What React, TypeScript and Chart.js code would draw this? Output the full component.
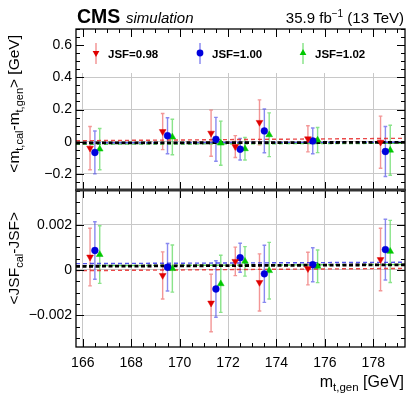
import React, { useEffect, useRef } from "react";
import { Chart, registerables } from "chart.js";

Chart.register(...registerables);

// ---------- data ----------
const massPoints = [166.5, 169.5, 171.5, 172.5, 173.5, 175.5, 178.5];
const seriesShift = [-0.2, 0, 0.2];
const seriesLabels = ["JSF=0.98", "JSF=1.00", "JSF=1.02"];

const xRange = [165.72, 179.31];
const xTickValues = [166, 168, 170, 172, 174, 176, 178];
const topRange = [-0.3, 0.7];
const topTickValues = [-0.2, 0, 0.2, 0.4, 0.6];
const botRange = [-0.0034, 0.00353];
const botTickValues = [-0.002, 0, 0.002];

// upper panel: <m_cal - m_gen> [GeV]
const massBias098 = [-0.04, 0.063, 0.053, -0.03, 0.12, 0.018, -0.003];
const massErr098 = [0.134, 0.112, 0.143, 0.068, 0.14, 0.081, 0.162];
const massBias100 = [-0.067, 0.037, 0.015, -0.047, 0.067, 0.005, -0.061];
const massErr100 = [0.133, 0.112, 0.136, 0.067, 0.136, 0.08, 0.155];
const massBias102 = [-0.046, 0.029, -0.009, -0.044, 0.043, 0.01, -0.053];
const massErr102 = [0.128, 0.11, 0.137, 0.07, 0.136, 0.078, 0.155];

// lower panel: <JSF_cal - JSF>
const jsfBias098 = [0.00057, -0.00024, -0.00146, 0.00038, -0.00055, 0.00006, 0.00046];
const jsfErr098 = [0.00127, 0.00104, 0.00127, 0.00063, 0.00126, 0.00072, 0.00138];
const jsfBias100 = [0.00086, 0.00012, -0.00084, 0.00054, -0.00017, 0.00023, 0.0009];
const jsfErr100 = [0.00127, 0.00105, 0.00125, 0.00064, 0.00126, 0.00075, 0.00134];
const jsfBias102 = [0.00068, 0.00006, -0.00061, 0.00038, -0.00003, 0.00016, 0.00082];
const jsfErr102 = [0.00127, 0.00104, 0.00126, 0.00065, 0.00125, 0.00072, 0.00137];

// fit lines (value at left edge, value at right edge)
const massFit098 = [0.006, 0.021];
const massFit100 = [-0.007, -0.003];
const massFit102 = [-0.016, -0.01];
const massFitAll = [-0.008, -0.004];
const jsfFit098 = [-0.00003, 0.00007];
const jsfFit100 = [0.00028, 0.00034];
const jsfFit102 = [0.00019, 0.00024];
const jsfFitAll = [0.00016, 0.00023];

// ---------- style ----------
const FONT = "'Liberation Sans', Arial, Helvetica, sans-serif";
const markerColors = ["#e00000", "#0000dd", "#00c800"];
const errColors = ["rgba(235,80,80,0.6)", "rgba(60,60,230,0.6)", "rgba(60,210,60,0.6)"];
const fitColors = ["rgba(230,40,40,0.85)", "rgba(40,40,230,0.8)", "rgba(40,200,40,0.8)"];
const markerStyles = ["down", "circle", "up"];

type Part = { t: string; size: number; dy?: number; bold?: boolean; italic?: boolean };

function fontOf(p: Part) {
  return `${p.italic ? "italic " : ""}${p.bold ? "bold " : ""}${p.size}px ${FONT}`;
}
function richWidth(ctx: CanvasRenderingContext2D, parts: Part[]) {
  let w = 0;
  for (const p of parts) {
    ctx.font = fontOf(p);
    w += ctx.measureText(p.t).width;
  }
  return w;
}
function drawRich(ctx: CanvasRenderingContext2D, parts: Part[], x: number, y: number) {
  let cx = x;
  ctx.textBaseline = "alphabetic";
  ctx.textAlign = "left";
  for (const p of parts) {
    ctx.font = fontOf(p);
    ctx.fillText(p.t, cx, y + (p.dy || 0));
    cx += ctx.measureText(p.t).width;
  }
}

function drawMarker(ctx: CanvasRenderingContext2D, style: string, x: number, y: number, r: number, color: string) {
  ctx.save();
  ctx.fillStyle = color;
  ctx.beginPath();
  if (style === "circle") {
    ctx.arc(x, y, r, 0, Math.PI * 2);
  } else {
    let a = style === "down" ? Math.PI : 0;
    ctx.moveTo(x + Math.sin(a) * r, y - Math.cos(a) * r);
    a += (2 * Math.PI) / 3;
    ctx.lineTo(x + Math.sin(a) * r, y - Math.cos(a) * r);
    a += (2 * Math.PI) / 3;
    ctx.lineTo(x + Math.sin(a) * r, y - Math.cos(a) * r);
    ctx.closePath();
  }
  ctx.fill();
  ctx.restore();
}

const fmt = (v: number) => (v === 0 ? "0" : (v < 0 ? "\u2212" : "") + String(Math.abs(v)));

const topSeries = [
  [massBias098, massErr098],
  [massBias100, massErr100],
  [massBias102, massErr102],
];
const botSeries = [
  [jsfBias098, jsfErr098],
  [jsfBias100, jsfErr100],
  [jsfBias102, jsfErr102],
];
const topFits = [massFit098, massFit100, massFit102];
const botFits = [jsfFit098, jsfFit100, jsfFit102];

function buildDatasets() {
  const ds: any[] = [];
  const addPoints = (series: number[][][], axis: string) => {
    series.forEach(([vals, errs], s) => {
      ds.push({
        type: "scatter",
        yAxisID: axis,
        data: massPoints.map((m, i) => ({ x: m + seriesShift[s], y: vals[i] })),
        errors: errs,
        errColor: errColors[s],
        pointStyle: s === 1 ? "circle" : "triangle",
        rotation: s === 0 ? 180 : 0,
        radius: s === 1 ? 3.4 : 3.9,
        backgroundColor: markerColors[s],
        borderColor: markerColors[s],
        borderWidth: 0.5,
        order: 0,
      });
    });
  };
  const addFits = (fits: number[][], all: number[], axis: string) => {
    fits.forEach((f, s) => {
      ds.push({
        type: "line",
        yAxisID: axis,
        data: [
          { x: xRange[0], y: f[0] },
          { x: xRange[1], y: f[1] },
        ],
        borderColor: fitColors[s],
        borderWidth: 1.4,
        borderDash: [4, 3],
        pointRadius: 0,
        order: 2,
      });
    });
    ds.push({
      type: "line",
      yAxisID: axis,
      data: [
        { x: xRange[0], y: all[0] },
        { x: xRange[1], y: all[1] },
      ],
      borderColor: "#000",
      borderWidth: 2.8,
      borderDash: [4, 2.5],
      pointRadius: 0,
      order: 1,
    });
  };
  addPoints(topSeries, "yTop");
  addPoints(botSeries, "yBot");
  addFits(topFits, massFitAll, "yTop");
  addFits(botFits, jsfFitAll, "yBot");
  return ds;
}

const decorPlugin = {
  id: "rootDecor",
  beforeDatasetsDraw(chart: any) {
    const ctx: CanvasRenderingContext2D = chart.ctx;
    const xs = chart.scales.x;
    const yt = chart.scales.yTop;
    const area = chart.chartArea;
    // legend box (white) covering grid at top of upper panel
    ctx.save();
    ctx.fillStyle = "#fff";
    ctx.fillRect(area.left + 1, yt.top + 1, area.right - area.left - 2, 43);
    ctx.restore();
    // legend entries
    const legX = [96, 200, 303];
    const legY = 53;
    seriesLabels.forEach((lab, s) => {
      ctx.save();
      ctx.strokeStyle = errColors[s];
      ctx.lineWidth = 1.5;
      ctx.beginPath();
      ctx.moveTo(legX[s], legY - 10);
      ctx.lineTo(legX[s], legY + 11);
      ctx.stroke();
      ctx.restore();
      drawMarker(ctx, markerStyles[s], legX[s], legY, s === 1 ? 3.4 : 3.9, markerColors[s]);
      ctx.save();
      ctx.fillStyle = "#000";
      ctx.font = `bold 11.5px ${FONT}`;
      ctx.textBaseline = "middle";
      ctx.fillText(lab, legX[s] + 12, legY + 2);
      ctx.restore();
    });
    // error bars
    chart.data.datasets.forEach((ds: any) => {
      if (!ds.errors) return;
      const ys = chart.scales[ds.yAxisID];
      ctx.save();
      ctx.strokeStyle = ds.errColor;
      ctx.lineWidth = 1.4;
      ds.data.forEach((pt: any, i: number) => {
        const px = xs.getPixelForValue(pt.x);
        const y1 = ys.getPixelForValue(pt.y + ds.errors[i]);
        const y2 = ys.getPixelForValue(pt.y - ds.errors[i]);
        ctx.beginPath();
        ctx.moveTo(px, y1);
        ctx.lineTo(px, y2);
        ctx.moveTo(px - 1.8, y1);
        ctx.lineTo(px + 1.8, y1);
        ctx.moveTo(px - 1.8, y2);
        ctx.lineTo(px + 1.8, y2);
        ctx.stroke();
      });
      ctx.restore();
    });
  },
  afterDraw(chart: any) {
    const ctx: CanvasRenderingContext2D = chart.ctx;
    const xs = chart.scales.x;
    const area = chart.chartArea;
    const panels = [
      { s: chart.scales.yTop, range: topRange, major: 0.2, minor: 0.05 },
      { s: chart.scales.yBot, range: botRange, major: 0.002, minor: 0.0005 },
    ];
    ctx.save();
    ctx.strokeStyle = "#000";
    ctx.lineWidth = 1;
    for (const p of panels) {
      const top = p.s.top;
      const bot = p.s.bottom;
      const n0 = Math.ceil(p.range[0] / p.minor - 1e-6);
      const n1 = Math.floor(p.range[1] / p.minor + 1e-6);
      for (let n = n0; n <= n1; n++) {
        const v = n * p.minor;
        const isMajor = Math.abs(v / p.major - Math.round(v / p.major)) < 1e-6;
        const len = isMajor ? 8 : 4;
        const py = Math.round(p.s.getPixelForValue(v)) + 0.5;
        ctx.beginPath();
        ctx.moveTo(area.left, py);
        ctx.lineTo(area.left + len, py);
        ctx.moveTo(area.right, py);
        ctx.lineTo(area.right - len, py);
        ctx.stroke();
      }
      for (let v = 165.5; v <= xRange[1]; v += 0.5) {
        if (v < xRange[0]) continue;
        const isMajor = Math.abs(v / 2 - Math.round(v / 2)) < 1e-6;
        const len = isMajor ? 8 : 4;
        const px = Math.round(xs.getPixelForValue(v)) + 0.5;
        ctx.beginPath();
        ctx.moveTo(px, top);
        ctx.lineTo(px, top + len);
        ctx.moveTo(px, bot);
        ctx.lineTo(px, bot - len);
        ctx.stroke();
      }
      ctx.lineWidth = 1.3;
      ctx.strokeRect(area.left, top, area.right - area.left, bot - top);
      ctx.lineWidth = 1;
    }
    ctx.strokeStyle = "#333";
    ctx.lineWidth = 3;
    ctx.beginPath();
    ctx.moveTo(area.left, chart.scales.yTop.bottom);
    ctx.lineTo(area.right, chart.scales.yTop.bottom);
    ctx.stroke();
    ctx.restore();

    ctx.save();
    ctx.fillStyle = "#000";
    drawRich(ctx, [{ t: "CMS", size: 19.5, bold: true }], 77, 23);
    drawRich(ctx, [{ t: "simulation", size: 15, italic: true }], 126, 23);
    const lumi: Part[] = [
      { t: "35.9 fb", size: 15 },
      { t: "\u22121", size: 10, dy: -6 },
      { t: " (13 TeV)", size: 15 },
    ];
    drawRich(ctx, lumi, 404 - richWidth(ctx, lumi), 23);
    const xt: Part[] = [
      { t: "m", size: 16 },
      { t: "t,gen", size: 11.5, dy: 4 },
      { t: " [GeV]", size: 16 },
    ];
    drawRich(ctx, xt, 404 - richWidth(ctx, xt), 387);
    const yt1: Part[] = [
      { t: "<m", size: 15.5 },
      { t: "t,cal", size: 11, dy: 4 },
      { t: "-m", size: 15.5 },
      { t: "t,gen", size: 11, dy: 4 },
      { t: "> [GeV]", size: 15.5 },
    ];
    const yt2: Part[] = [
      { t: "<JSF", size: 15.5 },
      { t: "cal", size: 11, dy: 4 },
      { t: "-JSF>", size: 15.5 },
    ];
    const rot = (parts: Part[], bx: number, yEnd: number) => {
      ctx.save();
      ctx.translate(bx, yEnd);
      ctx.rotate(-Math.PI / 2);
      drawRich(ctx, parts, -richWidth(ctx, parts), 0);
      ctx.restore();
    };
    rot(yt1, 19, 35);
    rot(yt2, 19, 212);
    ctx.restore();
  },
};

export default function App() {
  const ref = useRef<HTMLCanvasElement | null>(null);
  useEffect(() => {
    if (!ref.current) return;
    const tickFont = { family: FONT, size: 14 };
    const chart = new Chart(ref.current, {
      type: "scatter",
      data: { datasets: buildDatasets() },
      options: {
        animation: false,
        responsive: false,
        devicePixelRatio: 1,
        layout: { padding: { top: 29, right: 10, left: 0, bottom: 0 } },
        plugins: { legend: { display: false }, tooltip: { enabled: false } },
        scales: {
          x: {
            type: "linear",
            position: "bottom",
            min: xRange[0],
            max: xRange[1],
            afterBuildTicks: (s: any) => {
              s.ticks = xTickValues.map((v) => ({ value: v }));
            },
            afterFit: (s: any) => {
              s.height = 52;
            },
            ticks: { color: "#000", font: tickFont, padding: 8, maxRotation: 0, autoSkip: false, callback: (v: any) => String(v) },
            grid: { color: "#c8c8c8", lineWidth: 1, drawTicks: false },
            border: { display: false },
          },
          yBot: {
            type: "linear",
            position: "left",
            stack: "panels",
            stackWeight: 157,
            min: botRange[0],
            max: botRange[1],
            afterBuildTicks: (s: any) => {
              s.ticks = botTickValues.map((v) => ({ value: v }));
            },
            afterFit: (s: any) => {
              s.width = 76;
            },
            ticks: { color: "#000", font: tickFont, padding: 4, autoSkip: false, callback: (v: any) => fmt(v) },
            grid: { color: "#c8c8c8", lineWidth: 1, drawTicks: false },
            border: { display: false },
          },
          yTop: {
            type: "linear",
            position: "left",
            stack: "panels",
            stackWeight: 161,
            min: topRange[0],
            max: topRange[1],
            afterBuildTicks: (s: any) => {
              s.ticks = topTickValues.map((v) => ({ value: v }));
            },
            afterFit: (s: any) => {
              s.width = 76;
            },
            ticks: { color: "#000", font: tickFont, padding: 4, autoSkip: false, callback: (v: any) => fmt(v) },
            grid: { color: "#c8c8c8", lineWidth: 1, drawTicks: false },
            border: { display: false },
          },
        },
      } as any,
      plugins: [decorPlugin],
    });
    return () => chart.destroy();
  }, []);
  return (
    <div style={{ position: "absolute", left: 0, top: 0, width: 415, height: 399, background: "#fff" }}>
      <canvas ref={ref} width={415} height={399} style={{ display: "block" }} />
    </div>
  );
}
